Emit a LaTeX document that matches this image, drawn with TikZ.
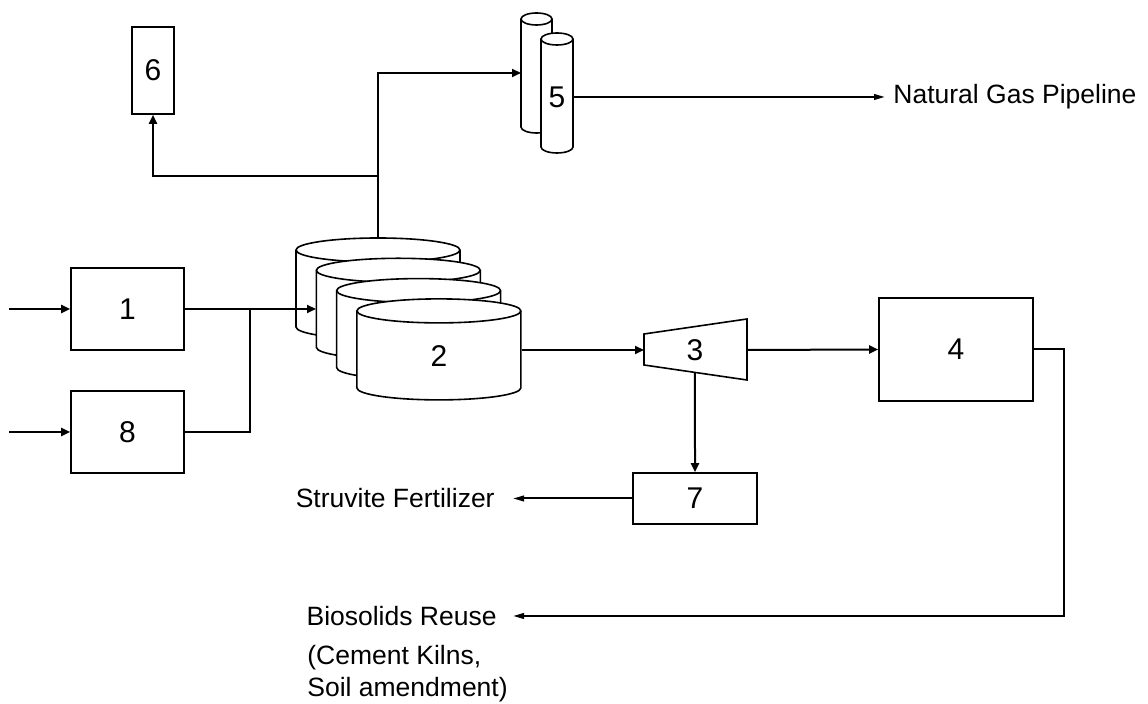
\documentclass[tikz,border=0pt]{standalone}
\usepackage{fontspec}
\setmainfont{Liberation Sans}
\usetikzlibrary{calc, arrows.meta}

\tikzset{
	unit/.style = {draw, line width = 0.8pt, fill = white, inner sep = 0pt, font = \fontsize{15}{18}\selectfont},
	tag/.style = {font = \fontsize{13.25}{16}\selectfont, align = left},
	flow/.style = {line width = 1pt, -{Triangle[length = 4.5pt, width = 4pt]}},
	toproduct/.style = {line width = 1pt, -{Triangle[length = 5.5pt, width = 2.8pt]}},
	pipe/.style = {line width = 1pt}
}

% left x, centre y of the top, width, side height, y radius
\newcommand{\vessel}[5]{
	\filldraw [line width = 0.8pt, fill = white] (#1,#2) -- (#1,#2+#4)
		arc [start angle = 180, end angle = 0, x radius = #3/2, y radius = #5]
		-- (#1+#3,#2) arc [start angle = 0, end angle = -180, x radius = #3/2, y radius = #5] -- cycle;
	\draw [line width = 0.8pt] (#1,#2) arc [start angle = 180, end angle = 0, x radius = #3/2, y radius = #5];
}

\begin{document}
\begin{tikzpicture}[x = 0.5pt, y = -0.5pt]
		\useasboundingbox (0,0) rectangle (1148,704);

		\def\dW{164}
		\def\dH{77}
		\def\dStep{20.3}

		% digesters
		\foreach \k in {0,...,3} {
			\begin{scope}[shift = {(\dStep*\k,\dStep*\k)}]
				\vessel{296}{250}{\dW}{\dH}{12}
			\end{scope}
		}
		\node [font = \fontsize{15}{18}\selectfont] (d2) at (439,356) {2};
		\coordinate (d2in) at (316,309);
		\coordinate (d2top) at (378,238);
		\coordinate (d2out) at (522,350);

		% gas cleanup towers
		\vessel{521}{19}{31}{108}{6}
		\vessel{541}{39}{32}{108}{6}
		\node [font = \fontsize{15}{18}\selectfont] (t5) at (557,97) {5};
		\coordinate (t5in) at (521,73);
		\coordinate (t5out) at (573,97);

		% dewatering
		\coordinate (t3a) at (644,334);
		\coordinate (t3b) at (747,319);
		\coordinate (t3c) at (747,380);
		\coordinate (t3d) at (644,365);
		\draw [line width = 0.8pt] (t3a) -- (t3b) -- (t3c) -- (t3d) -- cycle;
		\node [font = \fontsize{15}{18}\selectfont] (t3) at (695,350) {3};
		\coordinate (t3in) at (644,350);
		\coordinate (t3out) at (747,350);
		\coordinate (t3bot) at ($ (t3d)!0.495!(t3c) $);

		\node [unit, minimum width = 56.5pt, minimum height = 41pt] (b1) at (127.5,309) {1};
		\node [unit, minimum width = 56.5pt, minimum height = 41pt] (b8) at (127.5,432) {8};
		\node [unit, minimum width = 21pt, minimum height = 43.5pt] (b6) at (153,70.5) {6};
		\node [unit, minimum width = 77pt, minimum height = 51.5pt] (b4) at (956,349.5) {4};
		\node [unit, minimum width = 62pt, minimum height = 25.5pt] (b7) at (695,498.5) {7};

		\node [tag, anchor = west, inner xsep = 4pt] (pipeline) at (885,97) {Natural Gas Pipeline};
		\node [tag, anchor = east, inner xsep = 9pt] (struvite) at (513,498.5) {Struvite Fertilizer};
		\node [tag, anchor = east, inner xsep = 8pt] (reuse) at (513,616) {Biosolids Reuse};
		\node [tag, anchor = west, inner xsep = 8pt] (kilns) at (291,674) {(Cement Kilns,\\Soil amendment)};

		\coordinate (in1) at (9,309);
		\coordinate (in8) at (9,432);
		\coordinate (j1) at (250,309);
		\coordinate (split) at (378,176);

		\draw [flow] (in1) -- (b1);
		\draw [flow] (in8) -- (b8);
		\draw [flow] (b1.east) -- (d2in);
		\draw [pipe] (b8.east) -| (j1);
		\draw [flow] (d2top) |- (t5in);
		\draw [flow] (split) -| (b6.south);
		\draw [flow] (d2out) -- (t3in);
		\draw [flow] (t3out) -- (b4.west);
		\draw [flow] (t3bot) -- (b7.north);
		\draw [toproduct] (t5out) -- (pipeline.west);
		\draw [toproduct] (b7.west) -- (struvite.east);
		\draw [toproduct] (b4.east) -- ++(30,0) |- (reuse.east);
	\end{tikzpicture}
\end{document}
